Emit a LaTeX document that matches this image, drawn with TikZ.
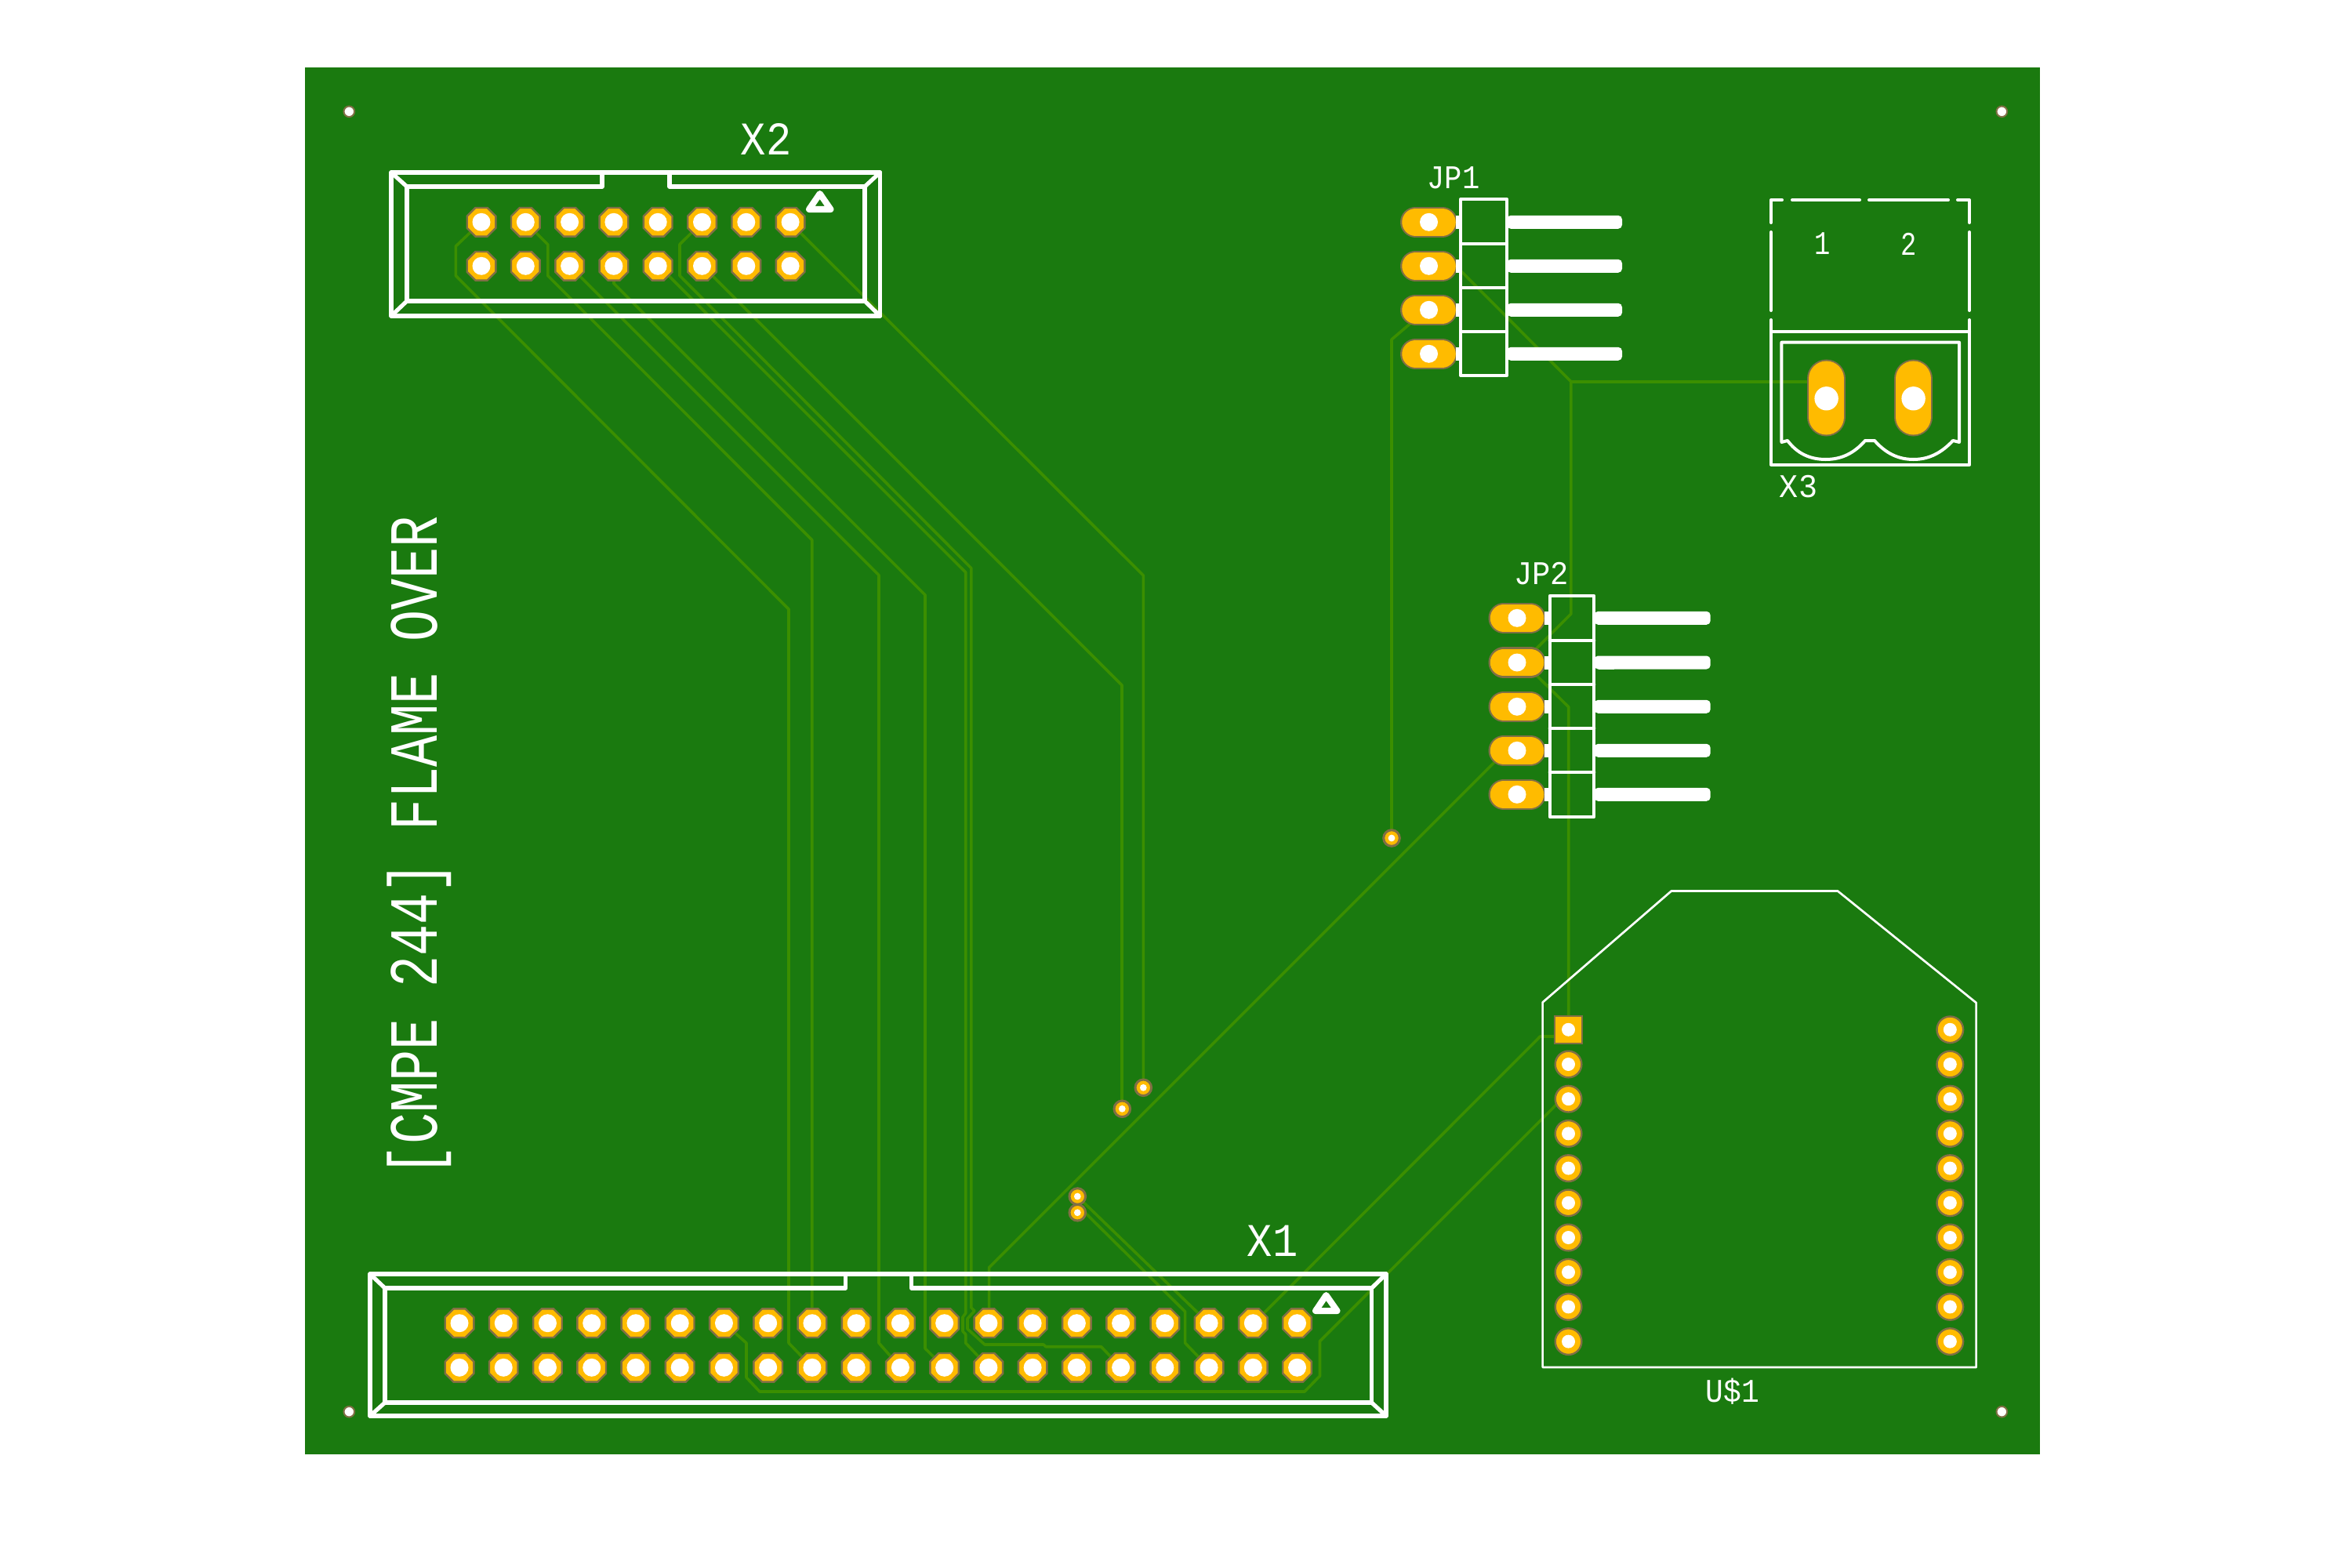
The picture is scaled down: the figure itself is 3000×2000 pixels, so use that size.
\documentclass[tikz,border=0pt]{standalone}
\usepackage{fontspec}
\setmainfont{Liberation Mono}
\definecolor{board}{HTML}{1A7A0F}
\definecolor{trace}{HTML}{3B8F00}
\definecolor{padc}{HTML}{FFBB00}
\definecolor{padedge}{HTML}{806F45}
\tikzset{
  silk/.style={draw=white,line width=0.052cm,line join=round,line cap=round},
  silkthin/.style={draw=white,line width=0.04cm,line join=round,line cap=round},
  silkhair/.style={draw=white,line width=0.027cm,line join=round},
  tracew/.style={draw=trace,line width=0.036cm,line join=round},
  padfill/.style={fill=padc,draw=padedge,line width=0.024cm},
  holefill/.style={fill=white},
  labelt/.style={text=white,inner sep=0pt,anchor=center},
}
% octagonal through-hole pad
\newcommand{\octpad}[2]{%
  \path[padfill] (#1,#2) +(22.5:19.8) -- +(67.5:19.8) -- +(112.5:19.8) -- +(157.5:19.8)
     -- +(202.5:19.8) -- +(247.5:19.8) -- +(292.5:19.8) -- +(337.5:19.8) -- cycle;
  \fill[holefill] (#1,#2) circle (11.5);}
% oblong horizontal pad
\newcommand{\longpad}[2]{%
  \draw[draw=padedge,line width=0.39cm,line cap=round] (#1-17,#2) -- (#1+17,#2);
  \draw[draw=padc,line width=0.345cm,line cap=round] (#1-17,#2) -- (#1+17,#2);
  \fill[holefill] (#1,#2) circle (11.5);}
% oblong vertical pad
\newcommand{\tallpad}[2]{%
  \draw[draw=padedge,line width=0.49cm,line cap=round] (#1,483) -- (#1,532);
  \draw[draw=padc,line width=0.45cm,line cap=round] (#1,483) -- (#1,532);
  \fill[holefill] (#1,#2) circle (15.2);}
\newcommand{\roundpad}[2]{%
  \path[padfill] (#1,#2) circle (16.8);
  \fill[holefill] (#1,#2) circle (8.5);}
\newcommand{\viapad}[2]{%
  \path[fill=padc,draw=padedge,line width=0.03cm] (#1,#2) circle (10.3);
  \fill[holefill] (#1,#2) circle (4.4);}
% protruding pin of a header: square at the body, rounded at the tip
\newcommand{\pinbar}[3]{%
  \fill[white,rounded corners=0.05cm] (#1-6,#3-8.5) rectangle (#2,#3+8.5);
  \fill[white] (#1,#3-8.5) rectangle (#1+20,#3+8.5);}
\begin{document}
\begin{tikzpicture}[x=0.01cm,y=-0.01cm]
\useasboundingbox (0,0) rectangle (3000,2000);
\fill[white] (0,0) rectangle (3000,2000);
\fill[board] (389,86) rectangle (2602,1855);

% ---- traces
\draw[tracew] (1036,1744) -- (1006,1713) -- (1006,777) -- (581.4,351.7) -- (581.4,314) -- (614,283);
\draw[tracew] (670,283) -- (698.8,312) -- (698.8,351.7) -- (1035.7,688.7) -- (1035.7,1687);
\draw[tracew] (726.5,339) -- (739,351.7) -- (1121,733.7) -- (1121,1713) -- (1148.4,1744);
\draw[tracew] (783,339) -- (783,361.7) -- (1180,758.9) -- (1180,1720) -- (1204.6,1744);
\draw[tracew] (839.5,339) -- (852.9,351.7) -- (1231.7,730) -- (1231.7,1675) -- (1228,1680) -- (1228,1698) -- (1231.7,1702) -- (1231.7,1713) -- (1261,1744);
\draw[tracew] (896,283) -- (867,311.7) -- (867,351.7) -- (1238.8,724.7) -- (1238.8,1668) -- (1243,1672) -- (1234,1682) -- (1234,1695) -- (1256,1715) -- (1331,1715) -- (1334,1717.7) -- (1404.5,1717.7) -- (1429.6,1744);
\draw[tracew] (896,339) -- (908.7,351.7) -- (1431,874) -- (1431,1414.3);
\draw[tracew] (1008,283) -- (1021,297) -- (1458.3,734) -- (1458.3,1387.3);
\draw[tracew] (1374.3,1526) -- (1541.5,1687.7);
\draw[tracew] (1374.3,1546.7) -- (1384,1546.7) -- (1511.6,1673) -- (1511.6,1713) -- (1541.5,1744);
\draw[tracew] (1261.6,1687) -- (1261.6,1616.7) -- (1906.7,971.7) -- (1935,957.3);
\draw[tracew] (1597.8,1687.7) -- (1612,1675) -- (1964.5,1322) -- (2000.5,1322);
\draw[tracew] (923.5,1687.7) -- (952,1713) -- (952,1757) -- (969,1775) -- (1664,1775) -- (1683.5,1755) -- (1683.5,1710.7) -- (1985,1409) -- (2000.5,1401);
\draw[tracew] (1822,339) -- (1864.5,346.7) -- (2003.8,486.7) -- (2003.8,783) -- (1959,828) -- (1935,845);
\draw[tracew] (2003.8,486.7) -- (2329.6,486.7);
\draw[tracew] (1935,845) -- (1959,860.7) -- (2000.7,901.7) -- (2000.7,1313.3);
\draw[tracew] (1822,395) -- (1800,411.7) -- (1775,433) -- (1775,1069);

% ---- X2 pads
\foreach \i in {0,...,7}{ \pgfmathsetmacro{\px}{614+56.3*\i}
  \octpad{\px}{283.3} \octpad{\px}{339.3} }
% ---- X1 pads
\foreach \i in {0,...,19}{ \pgfmathsetmacro{\px}{586+56.24*\i}
  \octpad{\px}{1687.7} \octpad{\px}{1744.3} }
% ---- JP pads
\foreach \y in {283.3,339.3,395.3,451.3}{ \longpad{1822.5}{\y} }
\foreach \y in {788.3,845,901.3,957.3,1013.3}{ \longpad{1935}{\y} }
% ---- X3 pads
\tallpad{2329.6}{508.3}
\tallpad{2440.6}{508.3}
% ---- U$1 pads
\path[padfill] (1983,1296) rectangle (2018,1331);
\fill[holefill] (2000.5,1313.3) circle (8.5);
\foreach \y in {1357.5,1401.7,1445.9,1490.1,1534.3,1578.5,1622.7,1666.9,1711.1}{ \roundpad{2000.5}{\y} }
\foreach \y in {1313.3,1357.5,1401.7,1445.9,1490.1,1534.3,1578.5,1622.7,1666.9,1711.1}{ \roundpad{2487.3}{\y} }
% ---- vias
\viapad{1458.3}{1387.3}
\viapad{1431.3}{1414.3}
\viapad{1374.3}{1526}
\viapad{1374.3}{1546.7}
\viapad{1775}{1069}
% ---- mounting holes
\foreach \x/\y in {445.3/142.3,2553.3/142.3,445.3/1800.7,2553.3/1800.7}{
  \path[fill=white,draw=padedge,line width=0.02cm] (\x,\y) circle (6.8); }

% ---- X2 silkscreen
\draw[silk] (499,220) rectangle (1122.5,403);
\draw[silk] (519,238) -- (768,238) -- (768,220);
\draw[silk] (854,220) -- (854,238) -- (1103,238) -- (1103,384) -- (519,384) -- (519,238);
\draw[silk] (499,220) -- (519,238) (1122.5,220) -- (1103,238) (499,403) -- (519,384) (1122.5,403) -- (1103,384);
\draw[white,line width=0.08cm,line join=round] (1045.7,247) -- (1032,267) -- (1059.5,267) -- cycle;
% ---- X1 silkscreen
\draw[silk] (472,1625) rectangle (1768,1806);
\draw[silk] (491,1643) -- (1078.6,1643) -- (1078.6,1625);
\draw[silk] (1162.5,1625) -- (1162.5,1643) -- (1749.5,1643) -- (1749.5,1789) -- (491,1789) -- (491,1643);
\draw[silk] (472,1625) -- (491,1643) (1768,1625) -- (1749.5,1643) (472,1806) -- (491,1789) (1768,1806) -- (1749.5,1789);
\draw[white,line width=0.08cm,line join=round] (1691.5,1652) -- (1678,1672) -- (1705.5,1672) -- cycle;

% ---- JP1 silkscreen
\foreach \y in {283.3,339.3,395.3,451.3}{
  \fill[white] (1857,\y-8.5) rectangle (1863,\y+8.5);
  \pinbar{1928}{2069}{\y} }
\draw[silkthin] (1863,254.3) rectangle (1922,479);
\draw[silkthin] (1863,310.5) -- (1922,310.5) (1863,366.7) -- (1922,366.7) (1863,422.7) -- (1922,422.7);
% ---- JP2 silkscreen
\foreach \y in {788.3,845,901.3,957.3,1013.3}{
  \fill[white] (1970,\y-8.5) rectangle (1977,\y+8.5);
  \pinbar{2039.3}{2181.7}{\y} }
\draw[silkthin] (1976.7,760) rectangle (2033.3,1041.7);
\draw[silkthin] (1976.7,816.7) -- (2033.3,816.7) (1976.7,873.3) -- (2033.3,873.3) (1976.7,928.7) -- (2033.3,928.7) (1976.7,985) -- (2033.3,985);

% ---- X3 silkscreen
\draw[silkthin] (2259,284) -- (2259,255) -- (2273,255);
\draw[silkthin] (2286,255) -- (2372,255) (2384,255) -- (2485,255);
\draw[silkthin] (2497,255) -- (2512,255) -- (2512,284);
\draw[silkthin] (2259,296) -- (2259,396) (2512,296) -- (2512,396);
\draw[silkthin] (2259,408) -- (2259,592.7) -- (2512,592.7) -- (2512,408);
\draw[silkthin] (2259,422.7) -- (2512,422.7);
\draw[silkthin] (2272.4,564) -- (2272.4,436.7) -- (2499,436.7) -- (2499,564) -- (2491,562)
  .. controls (2476,578) and (2460,586) .. (2440.6,586)
  .. controls (2421,586) and (2405,578) .. (2391,562) -- (2379,562)
  .. controls (2365,578) and (2349,586) .. (2328.7,586)
  .. controls (2308,586) and (2292,578) .. (2280,562) -- cycle;

% ---- U$1 outline
\draw[silkhair] (1967.6,1744) -- (1967.6,1278.5) -- (2131.8,1136.5) -- (2344,1136.5) -- (2520.6,1279) -- (2520.6,1744) -- cycle;

% ---- labels
\node[labelt,xscale=0.9,font=\fontsize{17pt}{17pt}\selectfont] (lx2) at (977,178) {X2};
\node[labelt,xscale=0.9,font=\fontsize{17pt}{17pt}\selectfont] (lx1) at (1623,1583) {X1};
\node[labelt,xscale=0.88,font=\fontsize{12pt}{12pt}\selectfont] (ljp1) at (1854,227) {JP1};
\node[labelt,xscale=0.92,font=\fontsize{12pt}{12pt}\selectfont] (ljp2) at (1966,732) {JP2};
\node[labelt,xscale=0.95,font=\fontsize{12pt}{12pt}\selectfont] (lx3) at (2294,621) {X3};
\node[labelt,xscale=0.9,font=\fontsize{12pt}{12pt}\selectfont] (lu1) at (2210,1775) {U\$1};
\node[labelt,xscale=0.8,font=\fontsize{12pt}{12pt}\selectfont] (lone) at (2325,311) {1};
\node[labelt,xscale=0.8,font=\fontsize{12pt}{12pt}\selectfont] (ltwo) at (2435,311) {2};
\node[text=white,inner sep=0pt,rotate=90,xscale=0.76,font=\fontsize{25pt}{25pt}\selectfont] (ltitle) at (535,1079) {[CMPE 244] FLAME OVER};
\end{tikzpicture}
\end{document}
